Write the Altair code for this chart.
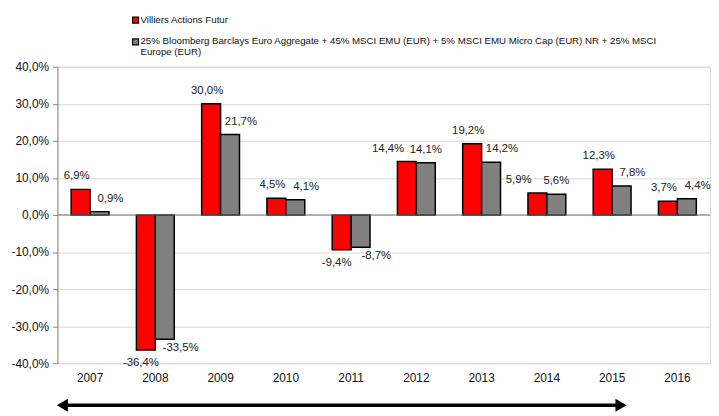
import altair as alt
import pandas as pd

years = ["2007", "2008", "2009", "2010", "2011", "2012", "2013", "2014", "2015", "2016"]
fund = [6.9, -36.4, 30.0, 4.5, -9.4, 14.4, 19.2, 5.9, 12.3, 3.7]
bench = [0.9, -33.5, 21.7, 4.1, -8.7, 14.1, 14.2, 5.6, 7.8, 4.4]
series_names = [
    "Villiers Actions Futur",
    "25% Bloomberg Barclays Euro Aggregate + 45% MSCI EMU (EUR) + 5% MSCI EMU Micro Cap (EUR) NR + 25% MSCI Europe (EUR)",
]
legend_lines = [
    "Villiers Actions Futur",
    "25% Bloomberg Barclays Euro Aggregate + 45% MSCI EMU (EUR) + 5% MSCI EMU Micro Cap (EUR) NR + 25% MSCI\nEurope (EUR)",
]
colors = ["#FF0000", "#808080"]
y_ticks = [-40, -30, -20, -10, 0, 10, 20, 30, 40]

rows = []
for y, f, b in zip(years, fund, bench):
    rows.append(dict(year=y, series=series_names[0], s=0, value=f, gap=abs(f - b)))
    rows.append(dict(year=y, series=series_names[1], s=1, value=b, gap=abs(f - b)))
df = pd.DataFrame(rows)

FONT = "Liberation Sans"
PCT = "replace(replace(format(datum.value,'.1f'),'.',','),'\u2212','-')+'%'"

xenc = alt.X(
    "year:N", sort=years, title=None,
    scale=alt.Scale(paddingInner=0.42, paddingOuter=0.21),
    axis=alt.Axis(labelFont=FONT, labelFontSize=12, labelColor="#111", labelPadding=9,
                  domain=False, ticks=False, labelAngle=0, grid=False),
)
yaxis = alt.Axis(values=y_ticks, labelExpr=PCT, labelOverlap=False,
                 labelFont=FONT, labelFontSize=12, labelColor="#111",
                 domainColor="#888", tickColor="#888", tickSize=5,
                 gridColor="#d9d9d9", labelPadding=4)
yscale = alt.Scale(domain=[-40, 40], nice=False)
yenc = alt.Y("value:Q", title=None, scale=yscale, axis=yaxis)
xoff = alt.XOffset("s:O", scale=alt.Scale(paddingInner=0, paddingOuter=0))
color_scale = alt.Scale(domain=series_names, range=colors)
color = alt.Color("series:N", scale=color_scale, legend=None)

base = alt.Chart(df)

bars = base.mark_bar(stroke="black", strokeWidth=1.5).encode(
    x=xenc, xOffset=xoff, y=yenc, color=color
)

zero = alt.Chart(pd.DataFrame({"value": [0]})).mark_rule(color="#777", strokeWidth=1).encode(
    y=yenc
)

lab = base.transform_calculate(label=PCT)


def tl(filt, dx, dy):
    return lab.transform_filter(filt).mark_text(
        font=FONT, fontSize=11.5, color="#222", dx=dx, dy=dy, baseline="middle"
    ).encode(x=xenc, xOffset=xoff, y=yenc, text="label:N")


labels = [
    tl("datum.s==0 && datum.value>=0 && datum.gap>=0.35", -4, -13),
    tl("datum.s==0 && datum.value>=0 && datum.gap<0.35", -19, -13),
    tl("datum.s==1 && datum.value>=0 && datum.gap>=0.35", 11, -13),
    tl("datum.s==1 && datum.value>=0 && datum.gap<0.35", 0, -13),
    tl("datum.s==0 && datum.value<0", -5, 13),
    tl("datum.s==1 && datum.value<0", 16, 9),
]

# manual legend
leg = []
for i, (name, txt, ypos) in enumerate(zip(series_names, legend_lines, [-47, -25])):
    leg.append(
        alt.Chart(pd.DataFrame({"series": [name]})).mark_square(
            size=36, stroke="black", strokeWidth=1.2, opacity=1
        ).encode(x=alt.value(79), y=alt.value(ypos), color=color)
    )
    leg.append(
        alt.Chart(pd.DataFrame({"series": [name]})).mark_text(
            align="left", baseline="top", font=FONT, fontSize=9.8, color="#111",
            lineBreak="\n", lineHeight=11
        ).encode(x=alt.value(84), y=alt.value(ypos - 5.5), text=alt.value(txt))
    )

# double-headed arrow
arrow_df = pd.DataFrame({"a": [0]})
arrow_line = alt.Chart(arrow_df).mark_rule(color="black", strokeWidth=3.5).encode(
    x=alt.value(6), x2=alt.value(570), y=alt.value(342.5)
)
head_l = alt.Chart(arrow_df).mark_point(shape="triangle-left", size=170, filled=True,
                                        color="black", opacity=1).encode(
    x=alt.value(5), y=alt.value(342.5)
)
head_r = alt.Chart(arrow_df).mark_point(shape="triangle-right", size=170, filled=True,
                                        color="black", opacity=1).encode(
    x=alt.value(570), y=alt.value(342.5)
)

chart = alt.layer(bars, zero, *labels, *leg, arrow_line, head_l, head_r).properties(
    width=660, height=300,
    autosize=alt.AutoSizeParams(type="none"),
    padding={"left": 50, "top": 57, "right": 1, "bottom": 50},
).configure_view(strokeWidth=0).configure(background="white")

chart.save("out.html", embed_options={"renderer": "svg", "actions": False})
